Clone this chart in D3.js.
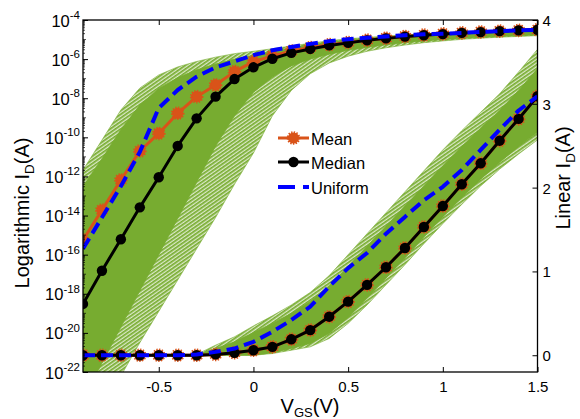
<!DOCTYPE html>
<html><head><meta charset="utf-8">
<script src="https://cdn.jsdelivr.net/npm/d3@7"></script>
<style>
body{margin:0;background:#fff}
svg{display:block}
text{font-family:"Liberation Sans",Arial,Helvetica,sans-serif;fill:#000}
</style>
</head><body>
<svg id="c" width="580" height="419"></svg>
<script>
// ---------- data ----------
const vgs = [-0.9,-0.8,-0.7,-0.6,-0.5,-0.4,-0.3,-0.2,-0.1,0,0.1,0.2,0.3,0.4,0.5,0.6,0.7,0.8,0.9,1.0,1.1,1.2,1.3,1.4,1.5];

// log10 of I_D (A), left axis
const meanLog    = [-15.25,-13.72,-12.18,-10.70,-9.80,-8.77,-7.92,-7.32,-6.64,-6.13,-5.84,-5.59,-5.41,-5.26,-5.15,-5.03,-4.93,-4.84,-4.77,-4.71,-4.66,-4.61,-4.57,-4.53,-4.50];
const medianLog  = [-18.52,-16.82,-15.21,-13.58,-12.04,-10.44,-9.03,-7.92,-7.02,-6.42,-5.98,-5.68,-5.48,-5.30,-5.17,-5.04,-4.94,-4.85,-4.78,-4.72,-4.66,-4.62,-4.57,-4.53,-4.50];
const uniformLog = [-15.70,-14.10,-12.50,-10.75,-8.50,-7.58,-6.90,-6.42,-6.12,-5.80,-5.55,-5.38,-5.22,-5.08,-4.98,-4.91,-4.84,-4.78,-4.73,-4.70,-4.66,-4.61,-4.57,-4.53,-4.51];

// Monte Carlo spread (log), outer = faint fringe, inner = dense core
const logOuterUpper = [-11.67,-10.14,-8.60,-7.48,-6.81,-6.40,-6.12,-5.90,-5.72,-5.60,-5.47,-5.33,-5.19,-5.06,-4.96,-4.89,-4.82,-4.76,-4.71,-4.67,-4.63,-4.59,-4.55,-4.51,-4.48];
const logInnerUpper = [-12.50,-11.10,-9.60,-8.35,-7.50,-6.95,-6.55,-6.25,-6.00,-5.80,-5.60,-5.42,-5.26,-5.12,-5.01,-4.93,-4.86,-4.80,-4.74,-4.70,-4.66,-4.62,-4.58,-4.54,-4.51];
const logInnerLower = [-23.40,-21.55,-19.70,-17.85,-16.00,-14.15,-12.30,-10.45,-8.90,-7.70,-6.90,-6.35,-6.00,-5.75,-5.55,-5.40,-5.27,-5.16,-5.07,-5.00,-4.94,-4.88,-4.84,-4.80,-4.76];
const logOuterLower = [-25.40,-23.80,-22.20,-20.50,-18.90,-17.30,-15.70,-14.10,-12.40,-10.80,-8.90,-7.60,-6.75,-6.20,-5.85,-5.60,-5.42,-5.28,-5.16,-5.07,-4.99,-4.93,-4.88,-4.84,-4.80];

// linear I_D, right axis
const meanLin    = [0,0,0,0,0,0,0,0.01,0.03,0.06,0.10,0.19,0.30,0.46,0.64,0.84,1.05,1.28,1.53,1.78,2.04,2.29,2.56,2.82,3.09];
const medianLin  = [0,0,0,0,0,0,0,0.01,0.03,0.06,0.10,0.19,0.30,0.46,0.64,0.84,1.05,1.28,1.53,1.78,2.04,2.29,2.56,2.82,3.09];
const uniformLin = [0,0,0,0,0,0,0.01,0.04,0.08,0.16,0.28,0.42,0.58,0.82,1.04,1.22,1.45,1.65,1.85,2.01,2.21,2.45,2.69,2.92,3.09];

const linOuterUpper = [0,0,0,0,0,0,0.01,0.12,0.22,0.35,0.47,0.60,0.75,0.95,1.20,1.45,1.70,1.95,2.20,2.45,2.68,2.90,3.12,3.38,3.65];
const linInnerUpper = [0,0,0,0,0,0,0,0.08,0.16,0.27,0.38,0.50,0.64,0.83,1.06,1.30,1.54,1.78,2.02,2.26,2.49,2.71,2.92,3.16,3.42];
const linInnerLower = [0,0,0,0,0,0,0,0,0,0,0.03,0.08,0.14,0.26,0.45,0.68,0.92,1.16,1.41,1.65,1.88,2.10,2.30,2.49,2.66];
const linOuterLower = [0,0,0,0,0,0,0,0,0,0,0.02,0.06,0.10,0.20,0.38,0.60,0.84,1.08,1.33,1.57,1.80,2.02,2.22,2.40,2.57];

const xTicks = [-0.5,0,0.5,1,1.5];
const xTickLabels = ["-0.5","0","0.5","1","1.5"];
const logTicks = [-4,-6,-8,-10,-12,-14,-16,-18,-20,-22];
const linTicks = [0,1,2,3,4];
const legendLabels = ["Mean","Median","Uniform"];

// ---------- layout ----------
const L=83, R=537.5, T=20, B=372;
const GREEN="#77AC30", ORANGE="#D95319", BLUE="#0000FF";

const svg = d3.select("#c");
const defs = svg.append("defs");
// thin-line texture for the sparse fringe of the Monte Carlo curves
const pat = defs.append("pattern").attr("id","fringe").attr("patternUnits","userSpaceOnUse")
  .attr("width",3).attr("height",3).attr("patternTransform","rotate(-35)");
pat.append("rect").attr("width",3).attr("height",3).attr("fill","#dbe9c8");
pat.append("rect").attr("width",3).attr("height",1.7).attr("fill",GREEN);

const x = d3.scaleLinear().domain([-0.9,1.5]).range([L,R]);
const yLog = d3.scaleLog().domain([1e-22,1e-4]).range([B,T]);
const yLin = d3.scaleLinear().domain([-0.2,4]).range([B,T]);
const p10 = e => Math.pow(10,e);

defs.append("clipPath").attr("id","clip").append("rect")
  .attr("x",L).attr("y",T).attr("width",R-L).attr("height",B-T);
const plot = svg.append("g").attr("clip-path","url(#clip)");

const idx = d3.range(vgs.length);
function band(lo,hi,yS,tr,fill,sw){
  const a = d3.area().x(i=>x(vgs[i])).y0(i=>yS(tr(lo[i]))).y1(i=>yS(tr(hi[i])));
  plot.append("path").attr("d",a(idx)).attr("fill",fill)
    .attr("stroke",sw?GREEN:"none").attr("stroke-width",sw||0);
}
const id = v=>v;
band(logOuterLower,logOuterUpper,yLog,p10,"url(#fringe)",0.6);
band(logInnerLower,logInnerUpper,yLog,p10,GREEN,0.8);
band(linOuterLower,linOuterUpper,yLin,id,"url(#fringe)",0.6);
band(linInnerLower,linInnerUpper,yLin,id,GREEN,0.8);

function series(vals,yS,tr,opt){
  const ln = d3.line().x(i=>x(vgs[i])).y(i=>yS(tr(vals[i])));
  plot.append("path").attr("d",ln(idx)).attr("fill","none")
    .attr("stroke",opt.color).attr("stroke-width",opt.w)
    .attr("stroke-dasharray",opt.dash||null).attr("stroke-linejoin","round");
  if(opt.marker==="mean"){
    plot.append("g").selectAll("circle").data(idx).join("circle")
      .attr("cx",i=>x(vgs[i])).attr("cy",i=>yS(tr(vals[i]))).attr("r",5.6)
      .attr("fill",ORANGE).attr("stroke",ORANGE).attr("stroke-width",2.4)
      .attr("stroke-dasharray","1.3,1.3");
  } else if(opt.marker==="median"){
    plot.append("g").selectAll("circle").data(idx).join("circle")
      .attr("cx",i=>x(vgs[i])).attr("cy",i=>yS(tr(vals[i]))).attr("r",5.2)
      .attr("fill","#000");
  }
}
series(meanLog,yLog,p10,{color:ORANGE,w:3,marker:"mean"});
series(medianLog,yLog,p10,{color:"#000",w:3,marker:"median"});
series(uniformLog,yLog,p10,{color:BLUE,w:4,dash:"12,6"});
series(meanLin,yLin,id,{color:ORANGE,w:3,marker:"mean"});
series(medianLin,yLin,id,{color:"#000",w:3,marker:"median"});
series(uniformLin,yLin,id,{color:BLUE,w:4,dash:"12,6"});

// ---------- axes ----------
const fs=15;
const gx = svg.append("g").attr("transform",`translate(0,${B})`)
  .call(d3.axisBottom(x).tickValues(xTicks).tickSize(-5).tickPadding(9)
    .tickFormat((d,i)=>xTickLabels[i]));
const gxt = svg.append("g").attr("transform",`translate(0,${T})`)
  .call(d3.axisTop(x).tickValues(xTicks).tickSize(-5).tickFormat(""));
const gl = svg.append("g").attr("transform",`translate(${L},0)`)
  .call(d3.axisLeft(yLog).tickValues(logTicks.map(p10)).tickSize(-5).tickPadding(4).tickFormat(""));
const gr = svg.append("g").attr("transform",`translate(${R},0)`)
  .call(d3.axisRight(yLin).tickValues(linTicks).tickSize(-5).tickPadding(5).tickFormat(d3.format("d")));
[gx,gxt,gl,gr].forEach(g=>{
  g.select(".domain").remove();
  g.selectAll(".tick line").attr("stroke","#000").attr("stroke-width",1);
  g.selectAll("text").attr("font-size",fs).attr("font-family",null);
});
gx.selectAll("text").attr("dy","0.75em");
gr.selectAll("text").attr("dy","0.36em");

// log tick labels with superscripts
gl.selectAll(".tick").each(function(d,i){
  const t = d3.select(this).select("text").text(null).attr("dy",null)
     .attr("x",-3).attr("y",6).attr("text-anchor","end").attr("font-size",16.5);
  t.append("tspan").text("10");
  t.append("tspan").attr("dy",-7.5).attr("font-size",11.5).text(String(logTicks[i]));
});
// minor log ticks
const minor=[];
for(let e=-22;e<-4;e++){ for(let k=1;k<10;k++){ if(k===1 && e%2===0) continue; minor.push([k*p10(e), k===1?3:2]); } }
svg.append("g").selectAll("line").data(minor).join("line")
  .attr("x1",L).attr("x2",d=>L+d[1]).attr("y1",d=>yLog(d[0])).attr("y2",d=>yLog(d[0]))
  .attr("stroke","#000").attr("stroke-width",0.7);

// frame
svg.append("rect").attr("x",L).attr("y",T).attr("width",R-L).attr("height",B-T)
  .attr("fill","none").attr("stroke","#000").attr("stroke-width",1.3);

// ---------- axis titles ----------
const lfs=20;
const tl = svg.append("text").attr("transform","translate(29,213) rotate(-90)")
  .attr("text-anchor","middle").attr("font-size",lfs);
tl.append("tspan").text("Logarithmic I");
tl.append("tspan").attr("dy",5).attr("font-size",13.5).text("D");
tl.append("tspan").attr("dy",-5).text("(A)");

const tr = svg.append("text").attr("transform","translate(570,178) rotate(-90)")
  .attr("text-anchor","middle").attr("font-size",lfs);
tr.append("tspan").text("Linear I");
tr.append("tspan").attr("dy",4.5).attr("font-size",13.5).text("D");
tr.append("tspan").attr("dy",-4.5).text("(A)");

const tb = svg.append("text").attr("x",310).attr("y",413)
  .attr("text-anchor","middle").attr("font-size",lfs);
tb.append("tspan").text("V");
tb.append("tspan").attr("dy",3.5).attr("font-size",13).text("GS");
tb.append("tspan").attr("dy",-3.5).text("(V)");

// ---------- legend ----------
const lg = svg.append("g");
const ly = [138,162,187];
legendLabels.forEach((lab,i)=>{
  const yy = ly[i];
  if(i===0){
    lg.append("line").attr("x1",278).attr("x2",309).attr("y1",yy).attr("y2",yy).attr("stroke",ORANGE).attr("stroke-width",3);
    lg.append("circle").attr("cx",293.5).attr("cy",yy).attr("r",5.6).attr("fill",ORANGE).attr("stroke",ORANGE).attr("stroke-width",2.4).attr("stroke-dasharray","1.3,1.3");
  } else if(i===1){
    lg.append("line").attr("x1",278).attr("x2",309).attr("y1",yy).attr("y2",yy).attr("stroke","#000").attr("stroke-width",3);
    lg.append("circle").attr("cx",293.5).attr("cy",yy).attr("r",5.2).attr("fill","#000");
  } else {
    lg.append("line").attr("x1",278).attr("x2",309).attr("y1",yy).attr("y2",yy).attr("stroke",BLUE).attr("stroke-width",4).attr("stroke-dasharray","17,8");
  }
  lg.append("text").attr("x",311).attr("y",yy+6.5).attr("font-size",16.5).text(lab);
});
</script>
</body></html>
